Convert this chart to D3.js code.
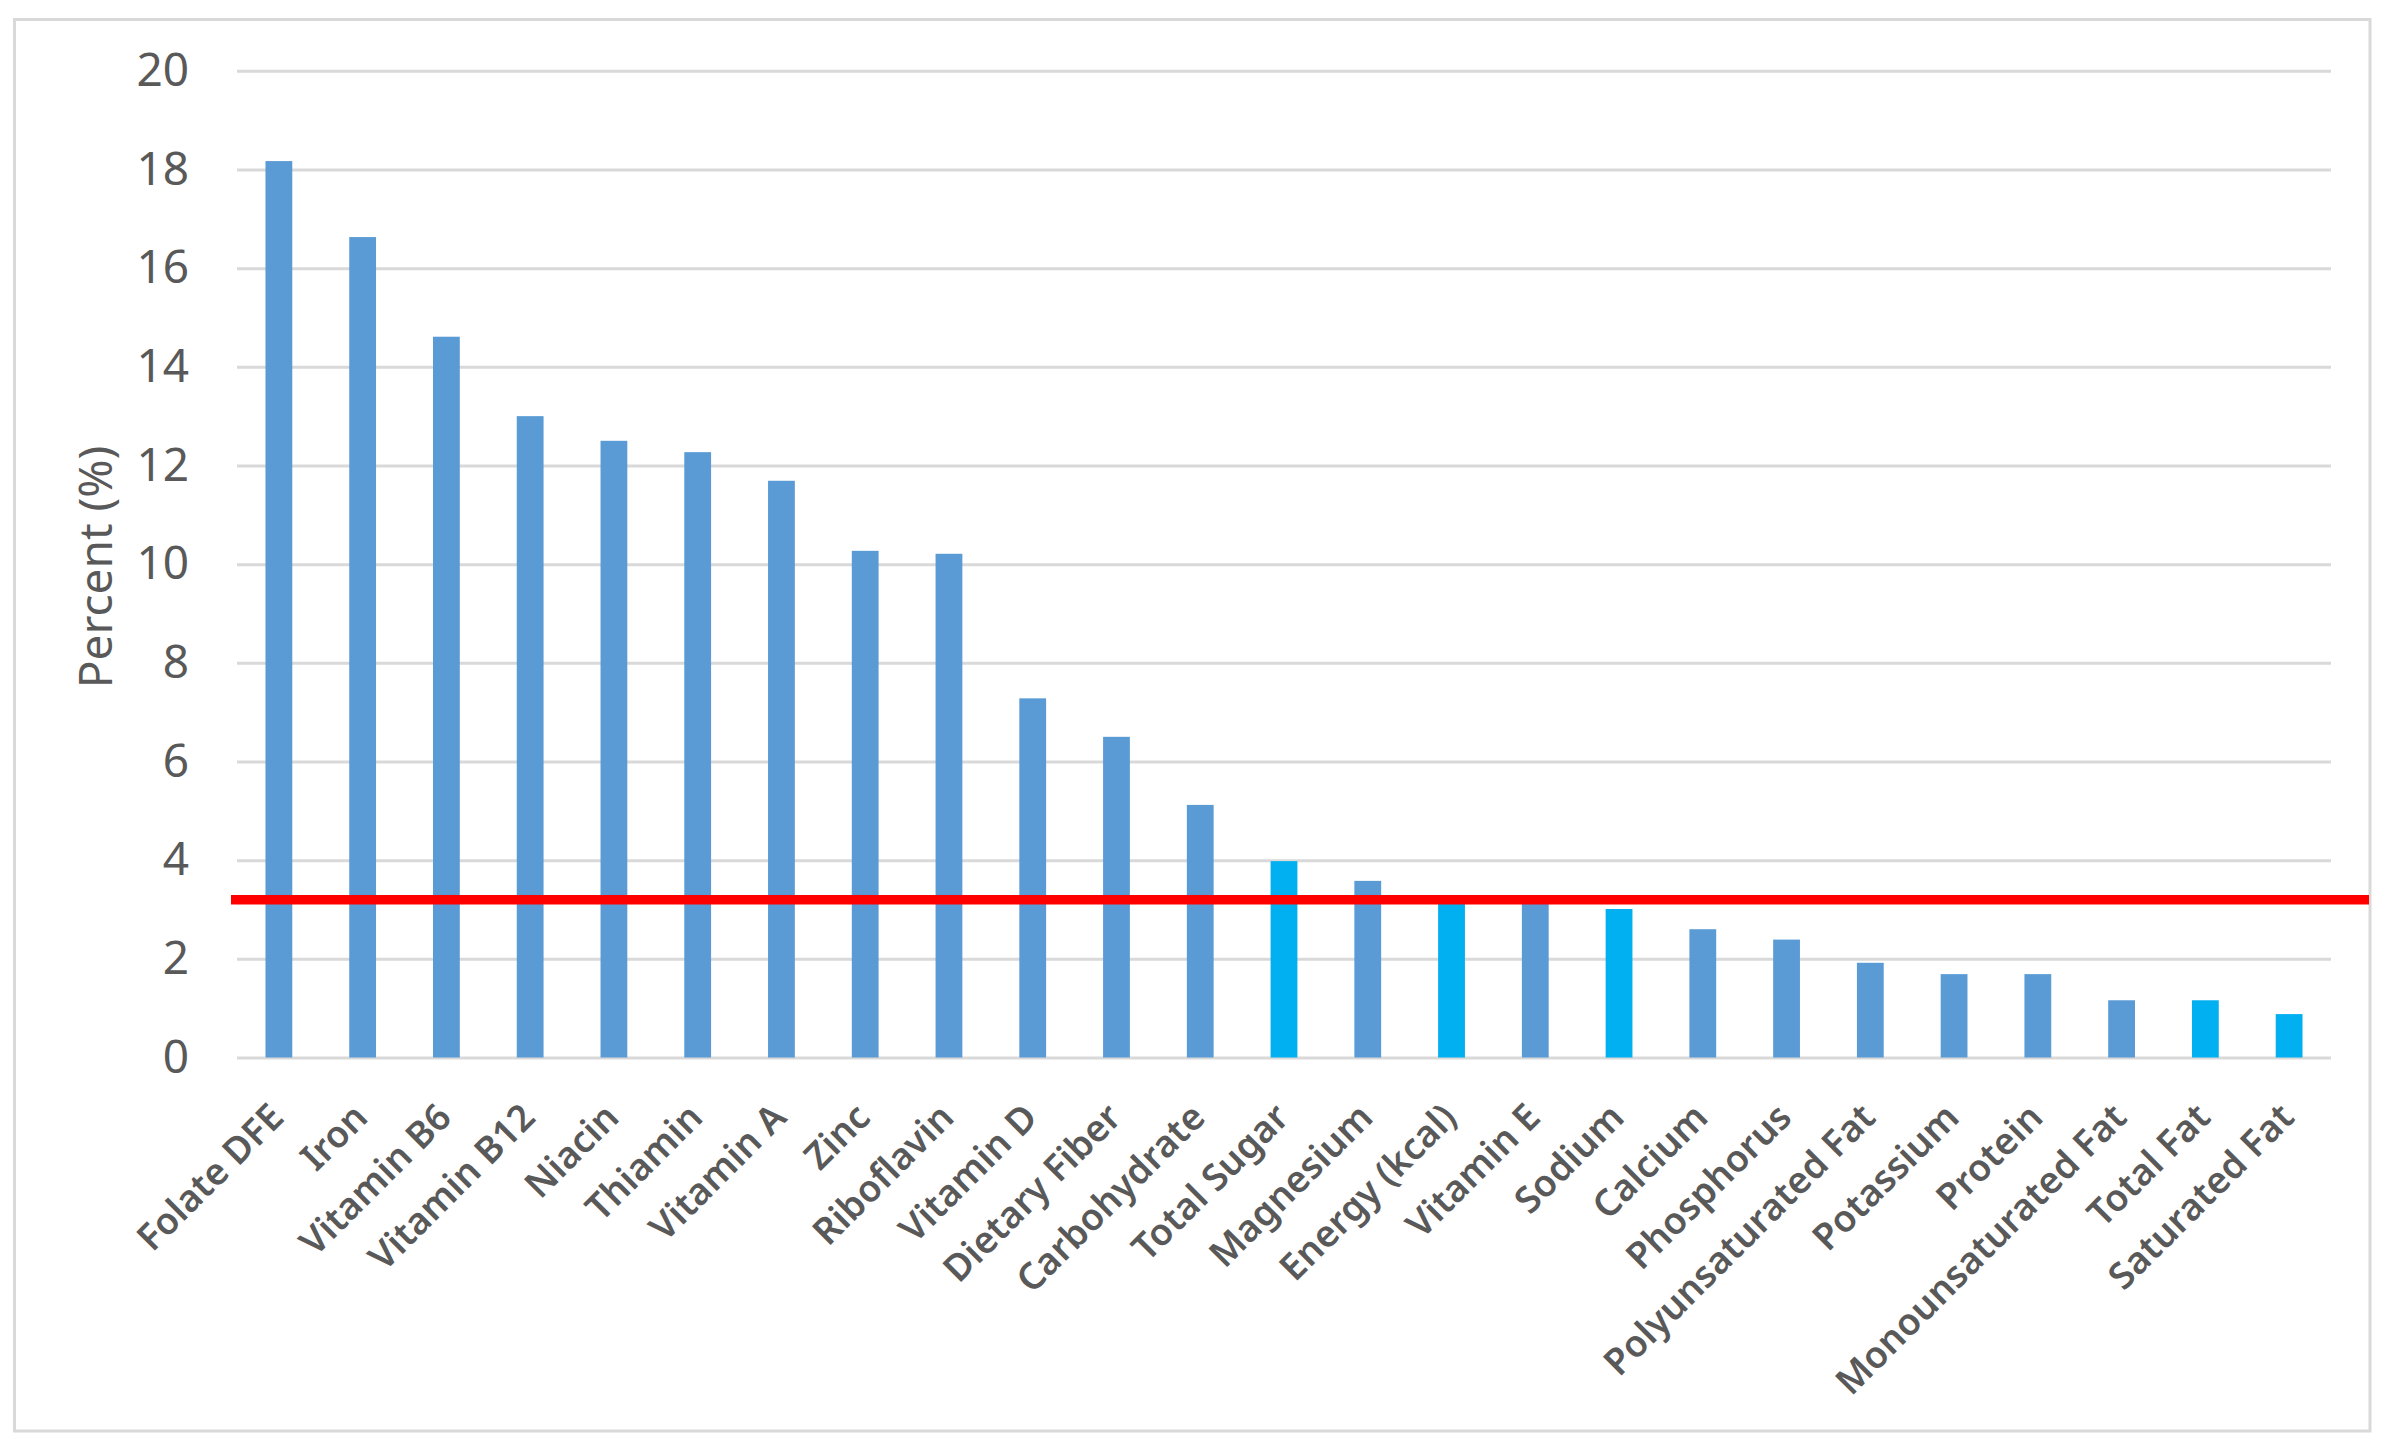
<!DOCTYPE html>
<html>
<head>
<meta charset="utf-8">
<script src="https://cdn.jsdelivr.net/npm/d3@7"></script>
<style>
  body { margin: 0; background: #fff; }
  svg text { font-family: "Noto Sans", "Open Sans", sans-serif; fill: #595959; }
</style>
</head>
<body>
<div id="chart"></div>
<script>
// nutrients, sorted as in the original chart
let nutrients = ["Folate DFE", "Iron", "Vitamin B6", "Vitamin B12", "Niacin", "Thiamin",
  "Vitamin A", "Zinc", "Riboflavin", "Vitamin D", "Dietary Fiber", "Carbohydrate",
  "Total Sugar", "Magnesium", "Energy (kcal)", "Vitamin E", "Sodium", "Calcium",
  "Phosphorus", "Polyunsaturated Fat", "Potassium", "Protein", "Monounsaturated Fat",
  "Total Fat", "Saturated Fat"];
let percents = [18.17, 16.63, 14.61, 13.0, 12.5, 12.27, 11.69, 10.27, 10.21, 7.28, 6.5, 5.12,
  3.98, 3.58, 3.2, 3.17, 3.01, 2.6, 2.39, 1.92, 1.69, 1.69, 1.16, 1.16, 0.88];
// nutrients drawn in the brighter cyan
let highlighted = ["Total Sugar", "Energy (kcal)", "Sodium", "Total Fat", "Saturated Fat"];
let yTicks = [0, 2, 4, 6, 8, 10, 12, 14, 16, 18, 20];
let refLine = 3.2;

let W = 2386, H = 1452;
let margin = {top: 70.8, right: 2386 - 2331, bottom: 1452 - 1057.5, left: 237},
    width = W - margin.left - margin.right,
    height = H - margin.top - margin.bottom;

let svg = d3.select("#chart").append("svg")
    .attr("width", W)
    .attr("height", H);

// chart area frame
svg.append("rect")
    .attr("x", 14.5)
    .attr("y", 19.5)
    .attr("width", 2370 - 14.5)
    .attr("height", 1431 - 19.5)
    .attr("fill", "#fff")
    .attr("stroke", "#d9d9d9")
    .attr("stroke-width", 3);

let g = svg.append("g")
    .attr("transform", "translate(" + margin.left + "," + margin.top + ")");

let x = d3.scaleBand()
    .domain(nutrients)
    .range([0, width])
    .paddingInner(0.68)
    .paddingOuter(0.34);

let y = d3.scaleLinear()
    .domain([0, 20])
    .range([height, 0]);

let yAxis = d3.axisLeft(y)
    .tickValues(yTicks)
    .tickSize(-width)
    .tickPadding(48);

g.append("g")
    .attr("class", "y axis")
    .call(yAxis)
    .call(a => a.select(".domain").remove())
    .call(a => a.selectAll(".tick line").attr("stroke", "#d9d9d9").attr("stroke-width", 3))
    .call(a => a.selectAll(".tick text").style("font-size", "46px").attr("fill", "#595959"));

g.selectAll(".bar")
    .data(nutrients)
  .enter().append("rect")
    .attr("class", "bar")
    .attr("x", d => x(d))
    .attr("y", (d, i) => y(percents[i]))
    .attr("width", x.bandwidth())
    .attr("height", (d, i) => height - y(percents[i]))
    .attr("fill", d => highlighted.indexOf(d) >= 0 ? "#00b0f0" : "#5b9bd5");

let xAxis = d3.axisBottom(x).tickSize(0);

g.append("g")
    .attr("class", "x axis")
    .attr("transform", "translate(0," + height + ")")
    .call(xAxis)
    .call(a => a.select(".domain").remove())
    .call(a => a.selectAll(".tick text")
        .attr("x", 0).attr("y", 0).attr("dy", 0)
        .attr("transform", "translate(7,62) rotate(-45)")
        .style("text-anchor", "end")
        .style("font-size", "37px")
        .style("font-weight", 600)
        .attr("fill", "#595959"));

// threshold line, runs past the plot to the frame
g.append("line")
    .attr("x1", 231 - margin.left)
    .attr("x2", 2369 - margin.left)
    .attr("y1", y(refLine))
    .attr("y2", y(refLine))
    .attr("stroke", "#ff0000")
    .attr("stroke-width", 9.5);

svg.append("text")
    .attr("transform", "translate(112,567) rotate(-90)")
    .style("text-anchor", "middle")
    .style("font-size", "46px")
    .text("Percent (%)");
</script>
</body>
</html>
